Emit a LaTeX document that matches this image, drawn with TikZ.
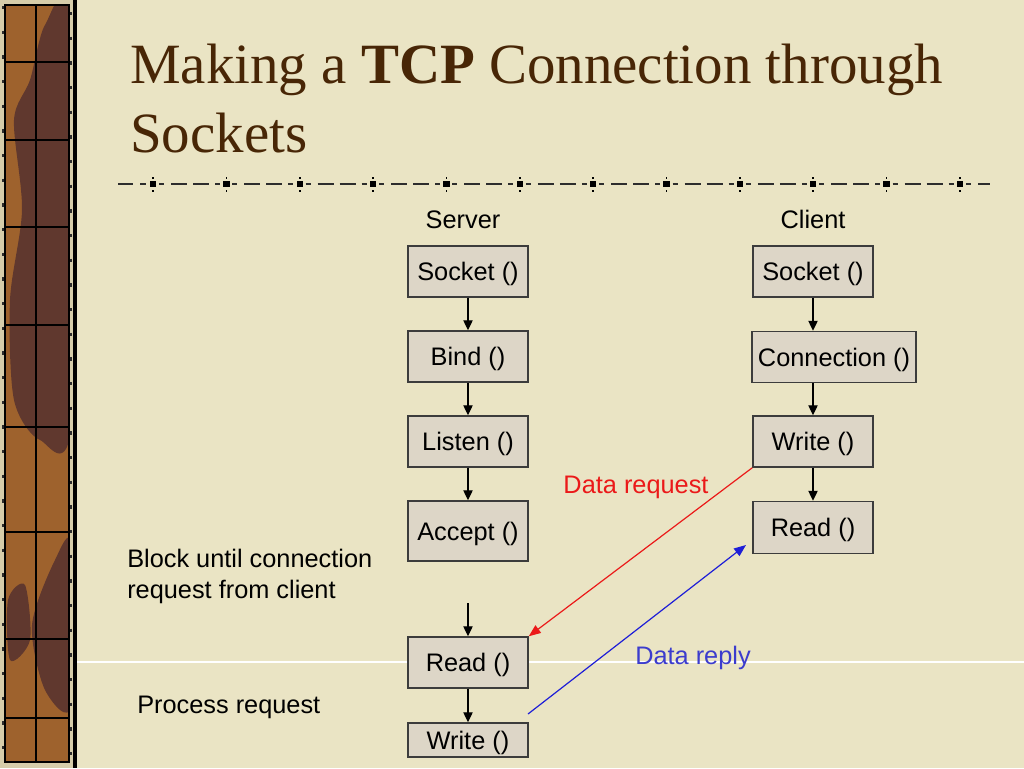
\documentclass[tikz,border=0pt]{standalone}
\usepackage{fontspec}
\setmainfont{Liberation Sans}
\newfontfamily\titlefont{Liberation Serif}
\usetikzlibrary{arrows.meta}
\definecolor{bgc}{RGB}{234,228,196}
\definecolor{titlec}{RGB}{72,38,6}
\definecolor{boxfill}{RGB}{221,214,199}
\definecolor{boxdraw}{RGB}{60,60,60}
\definecolor{reqred}{RGB}{235,25,25}
\definecolor{repblue}{RGB}{30,30,215}
\definecolor{replabel}{RGB}{60,60,205}
\definecolor{woodlight}{RGB}{158,98,45}
\definecolor{wooddark}{RGB}{96,56,46}
\definecolor{woodcream}{RGB}{214,205,170}
\definecolor{rulec}{RGB}{45,45,45}
\tikzset{
  box/.style={draw=boxdraw, fill=boxfill, line width=1.1pt, minimum width=90pt, inner sep=0pt,
    font=\fontsize{19}{22}\selectfont, text=black, text height=13.6pt, text depth=0pt},
  lbl/.style={inner sep=0pt, font=\fontsize{19}{23}\selectfont, text=black},
  arr/.style={-{Triangle[length=7.5pt,width=7pt]}, line width=0.9pt, draw=black},
  reqarr/.style={-{Triangle[length=9pt,width=7pt]}, line width=0.9pt, draw=reqred},
  reparr/.style={-{Triangle[length=9pt,width=7pt]}, line width=0.9pt, draw=repblue},
  ruleseg/.style={draw=rulec, line width=1.1pt},
}
\begin{document}
\begin{tikzpicture}[x=0.75pt,y=-0.75pt]
\useasboundingbox (0,0) rectangle (1024,768);
\fill[bgc] (0,0) rectangle (1024,768);
% faint white streak
\draw[white, line width=0.8pt] (77,662) -- (1024,662);

% wooden side bar
\fill[woodlight] (0,0) rectangle (74,768);
\fill[wooddark] plot[smooth cycle] coordinates {(45,25) (72,15) (72,420) (40,440) (14,400) (10,300) (22,210) (14,120) (30,80)};
\fill[wooddark] plot[smooth cycle] coordinates {(55,560) (72,545) (72,705) (45,690) (32,625)};
\fill[wooddark] plot[smooth cycle] coordinates {(8,600) (25,585) (30,640) (10,660)};
\fill[woodcream] (0,0) rectangle (5,768);
\fill[woodcream] (69,0) rectangle (73,768);
\fill[woodcream] (0,0) rectangle (73,5);
\fill[woodcream] (0,762) rectangle (73,768);
\fill[black] (73,0) rectangle (77,768);
\draw[rulec, line width=1.5pt, dash pattern=on 2.5pt off 16pt] (2.5,6) -- (2.5,768);
\draw[rulec, line width=1.5pt, dash pattern=on 2.5pt off 16pt] (71,12) -- (71,768);
\draw[black, line width=0.9pt] (36,5) -- (36,762);
\foreach \yy in {62,140,227,325,427,532,639,718}
  \draw[black, line width=0.9pt] (5,\yy) -- (69,\yy);
\draw[black, line width=0.9pt] (5,5) rectangle (69,762);

% title
\node[anchor=base west, inner sep=0pt, text=titlec, font=\titlefont\fontsize{42.7}{51}\selectfont] (t1) at (130,83) {Making a \textbf{TCP} Connection through};
\node[anchor=base west, inner sep=0pt, text=titlec, font=\titlefont\fontsize{42.7}{51}\selectfont] (t2) at (130,152) {Sockets};

% dashed rule with markers
\draw[ruleseg] (118,184) -- (133,184);
\draw[ruleseg] (140,184) -- (146,184);
\foreach \k in {0,...,11} {
  \pgfmathsetmacro\m{153+73.36*\k}
  \fill[black] (\m-3.2,180.8) rectangle (\m+3.2,187.2);
  \fill[black] (\m-0.8,176.5) rectangle (\m+0.8,178.5);
  \fill[black] (\m-0.8,189.5) rectangle (\m+0.8,191.5);
}
\foreach \k in {0,...,10} {
  \pgfmathsetmacro\m{153+73.36*\k}
  \draw[ruleseg] (\m+6,184) -- (\m+11,184);
  \draw[ruleseg] (\m+18,184) -- (\m+34,184);
  \draw[ruleseg] (\m+40,184) -- (\m+56,184);
  \draw[ruleseg] (\m+62,184) -- (\m+67,184);
}
\draw[ruleseg] (966,184) -- (971,184);
\draw[ruleseg] (978,184) -- (990,184);

% column headers
\node[lbl, anchor=base] (srvh) at (463,228) {Server};
\node[lbl, anchor=base] (clih) at (813,228) {Client};

% server boxes
\node[box, minimum height=38.25pt] (ss) at (468,271.5) {Socket ()};
\node[box, minimum height=38.25pt] (sb) at (468,356.5) {Bind ()};
\node[box, minimum height=38.25pt] (sl) at (468,441.5) {Listen ()};
\node[box, minimum height=45pt] (sa) at (468,531) {Accept ()};
\node[box, minimum height=38.25pt] (sr) at (468,662.5) {Read ()};
\node[box, minimum height=25.5pt] (sw) at (468,740) {Write ()};

% client boxes
\node[box, minimum height=38.25pt] (cs) at (813,271.5) {Socket ()};
\node[box, minimum height=38.25pt, minimum width=123pt] (cc) at (834,357) {Connection ()};
\node[box, minimum height=38.25pt] (cw) at (813,441.5) {Write ()};
\node[box, minimum height=39pt] (cr) at (813,527.5) {Read ()};

% vertical arrows
\draw[arr] (ss.south) -- (sb.north);
\draw[arr] (sb.south) -- (sl.north);
\draw[arr] (sl.south) -- (sa.north);
\coordinate (a0) at (468,603);
\draw[arr] (a0) -- (sr.north);
\draw[arr] (sr.south) -- (sw.north);
\draw[arr] (cs.south) -- (cs.south |- cc.north);
\draw[arr] (cw.north |- cc.south) -- (cw.north);
\draw[arr] (cw.south) -- (cr.north);

% data request / reply
\draw[reqarr] (cw.south west) -- (sr.north east);
\coordinate (b0) at (528,714);
\coordinate (b1) at (746,545);
\draw[reparr] (b0) -- (b1);
\node[lbl, text=reqred] (dreq) at (636,487) {Data request};
\node[lbl, text=replabel] (drep) at (693,657.5) {Data reply};

% side notes
\node[lbl, anchor=base west] (blk1) at (127,567) {Block until connection};
\node[lbl, anchor=base west] (blk2) at (127,598) {request from client};
\node[lbl, anchor=base west] (proc) at (137,713) {Process request};
\end{tikzpicture}
\end{document}
